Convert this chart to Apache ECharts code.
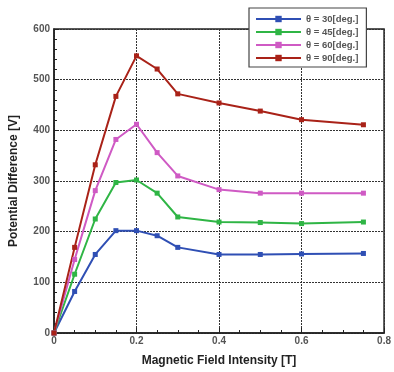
<!DOCTYPE html>
<html><head><meta charset="utf-8">
<script src="https://cdn.jsdelivr.net/npm/echarts@6/dist/echarts.min.js"></script>
<style>html,body{margin:0;padding:0;background:#fff}#c{width:394px;height:372px}</style>
</head><body><div id="c"></div>
<script>
const xValues = [0, 0.05, 0.1, 0.15, 0.2, 0.25, 0.3, 0.4, 0.5, 0.6, 0.75];
const seriesNames = ['θ = 30[deg.]', 'θ = 45[deg.]', 'θ = 60[deg.]', 'θ = 90[deg.]'];
const theta30 = [0, 82, 155, 202, 202, 192, 169, 155, 155, 156, 157];
const theta45 = [0, 116, 225, 297, 302, 276, 229, 219, 218, 216, 219];
const theta60 = [0, 145, 281, 382, 412, 356, 310, 283, 276, 276, 276];
const theta90 = [0, 169, 332, 467, 547, 521, 472, 454, 438, 421, 411];
const colors = ['#2f4fb4', '#2fb545', '#cf5ac4', '#a92218'];
const allData = [theta30, theta45, theta60, theta90];

const chart = echarts.init(document.getElementById('c'));
const lbl = {color: '#555', fontWeight: 'bold', fontSize: 10, fontFamily: 'Liberation Sans, Arial, sans-serif'};
chart.setOption({
  animation: false,
  grid: {left: 52, right: 9, top: 29, bottom: 37, show: true, borderColor: '#222', borderWidth: 1.5, backgroundColor: 'transparent'},
  legend: {
    left: 249, top: 8, width: 119, orient: 'vertical',
    backgroundColor: '#fff', borderColor: '#444', borderWidth: 1.2,
    padding: [6, 8, 4, 6], itemGap: 3, itemWidth: 45, itemHeight: 8,
    textStyle: {fontSize: 9.5, fontWeight: 'bold', color: '#555', fontFamily: 'Liberation Sans, Arial, sans-serif'},
    data: seriesNames
  },
  xAxis: {
    type: 'value', min: 0, max: 0.8, interval: 0.2,
    name: 'Magnetic Field Intensity [T]', nameLocation: 'middle', nameGap: 22,
    nameTextStyle: {fontSize: 12, fontWeight: 'bold', color: '#222', fontFamily: 'Liberation Sans, Arial, sans-serif'},
    axisLine: {show: true, lineStyle: {color: '#222', width: 1.5}},
    axisTick: {show: true, inside: true, length: 5, lineStyle: {color: '#222'}},
    minorTick: {show: true, splitNumber: 4, length: 3, lineStyle: {color: '#222'}},
    axisLabel: Object.assign({margin: 3, formatter: v => String(+v.toFixed(1))}, lbl),
    splitLine: {show: true, lineStyle: {color: '#333', type: [2, 1], width: 1}}
  },
  yAxis: {
    type: 'value', min: 0, max: 600, interval: 100,
    name: 'Potential Difference [V]', nameLocation: 'middle', nameGap: 34,
    nameTextStyle: {fontSize: 12, fontWeight: 'bold', color: '#222', fontFamily: 'Liberation Sans, Arial, sans-serif'},
    axisLine: {show: true, lineStyle: {color: '#222', width: 1.5}},
    axisTick: {show: true, inside: true, length: 5, lineStyle: {color: '#222'}},
    minorTick: {show: true, splitNumber: 5, length: 3, lineStyle: {color: '#222'}},
    axisLabel: Object.assign({margin: 4}, lbl),
    splitLine: {show: true, lineStyle: {color: '#333', type: [2, 1], width: 1}}
  },
  series: seriesNames.map((n, i) => ({
    name: n, type: 'line',
    data: xValues.map((x, j) => [x, allData[i][j]]),
    symbol: 'rect', symbolSize: 5,
    lineStyle: {color: colors[i], width: 2},
    itemStyle: {color: colors[i]}
  }))
});
</script></body></html>
